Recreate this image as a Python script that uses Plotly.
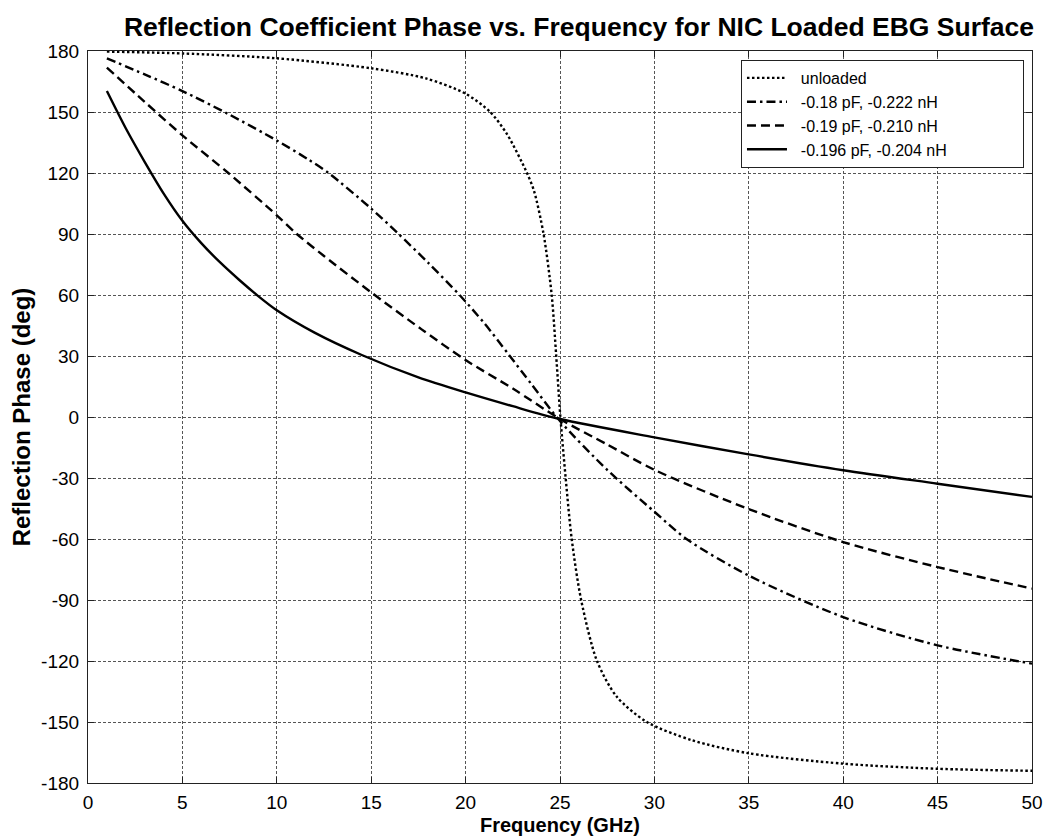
import plotly.graph_objects as go

# Unloaded surface
f_unloaded = [1, 5, 10, 15, 17.9, 20, 21.3, 22.2, 23.25, 23.63, 24.13, 24.56, 24.8, 25.02, 25.3, 25.62, 26.12, 26.96, 28, 29.6, 32, 35, 40, 45, 50]
ph_unloaded = [179.7, 178.8, 176.4, 171.5, 166.5, 159, 150, 139, 120, 111, 90, 60, 30, 0, -30, -60, -90, -120, -137.5, -150, -159, -165.4, -170.5, -173, -174]

# -0.18 pF, -0.222 nH
f_c18 = [1, 3, 5, 7.43, 10, 11.68, 12.74, 15, 16.45, 18, 19.73, 21, 22.3, 23.5, 25, 27.5, 30, 31.7, 35, 40, 45, 50]
ph_c18 = [176.4, 168.5, 160.3, 149, 136, 126.6, 120, 102.5, 90, 76, 59.5, 46, 30.5, 16, -2, -26, -46.6, -60, -78, -98.4, -112.3, -121.3]

# -0.19 pF, -0.210 nH
f_c19 = [1, 3, 5, 7.43, 10, 11.06, 12.5, 15, 17.67, 20, 22.5, 25, 27.5, 30, 35, 40, 45, 50]
ph_c19 = [171.8, 155, 138.5, 120, 99.2, 90, 79.2, 61.3, 43.1, 28, 14, -1, -13.5, -26, -45.3, -61.5, -73.8, -84.4]

# -0.196 pF, -0.204 nH
f_c196 = [1, 2, 3, 4, 5, 6, 7, 8, 9, 10, 12, 14.5, 17.5, 20, 22.5, 25, 30, 35, 40, 45, 50]
ph_c196 = [160.3, 142, 125.5, 110, 96.5, 85.5, 76, 67.5, 59.6, 52.5, 41.5, 30.5, 19.5, 12.1, 5.3, -1, -10, -18.4, -26.2, -32.8, -39.3]

x_ticks = [0, 5, 10, 15, 20, 25, 30, 35, 40, 45, 50]
y_ticks = [-180, -150, -120, -90, -60, -30, 0, 30, 60, 90, 120, 150, 180]

FONT = "Liberation Sans, Arial, sans-serif"
NB = "\u00a0"

fig = go.Figure()
series = [
    (f_unloaded, ph_unloaded, "unloaded", "2.5px,2.5px"),
    (f_c18, ph_c18, "-0.18 pF, -0.222 nH", "9px,4px,2.5px,4px"),
    (f_c19, ph_c19, "-0.19 pF, -0.210 nH", "9px,5px"),
    (f_c196, ph_c196, "-0.196 pF, -0.204 nH", "solid"),
]
for fx, py, name, dash in series:
    fig.add_trace(go.Scatter(
        x=fx, y=py, name=NB * 2 + name + NB * 16, mode="lines",
        line=dict(color="black", width=2.4, dash=dash, shape="spline", smoothing=0.8),
    ))

axis_common = dict(
    showline=True, linecolor="#222", linewidth=1.2, mirror="ticks",
    ticks="inside", ticklen=6, tickcolor="#222",
    showgrid=True, gridcolor="#555", gridwidth=1, griddash="3px,2px",
    zeroline=False, automargin=False,
    tickfont=dict(family=FONT, size=19, color="black"),
)

fig.update_layout(
    width=1047, height=840,
    paper_bgcolor="white", plot_bgcolor="white",
    margin=dict(l=88, r=15, t=51, b=57),
    title=dict(
        text="<b>Reflection Coefficient Phase vs. Frequency for NIC Loaded EBG Surface</b>",
        x=0.553, xanchor="center", y=0.968, yanchor="middle",
        font=dict(family=FONT, size=26.5, color="black"),
    ),
    xaxis=dict(
        range=[0, 50], tickvals=x_ticks, ticktext=[str(v) for v in x_ticks],
        title=dict(text="<b>Frequency (GHz)</b>", font=dict(family=FONT, size=20, color="black"), standoff=6),
        ticklabelstandoff=2,
        **axis_common,
    ),
    yaxis=dict(
        range=[-180, 180], tickvals=y_ticks, ticktext=[str(v) for v in y_ticks],
        title=dict(text="<b>Reflection Phase (deg)</b>", font=dict(family=FONT, size=24, color="black"), standoff=3),
        ticklabelstandoff=4,
        **axis_common,
    ),
    legend=dict(
        x=0.9915, y=0.9877, xanchor="right", yanchor="top",
        bgcolor="white", bordercolor="#222", borderwidth=1,
        font=dict(family=FONT, size=16, color="black"),
        tracegroupgap=0, itemwidth=40,
    ),
    showlegend=True,
)

fig.write_html("out.html", config={"displayModeBar": False},
               post_script="document.body.style.margin='0px';")
